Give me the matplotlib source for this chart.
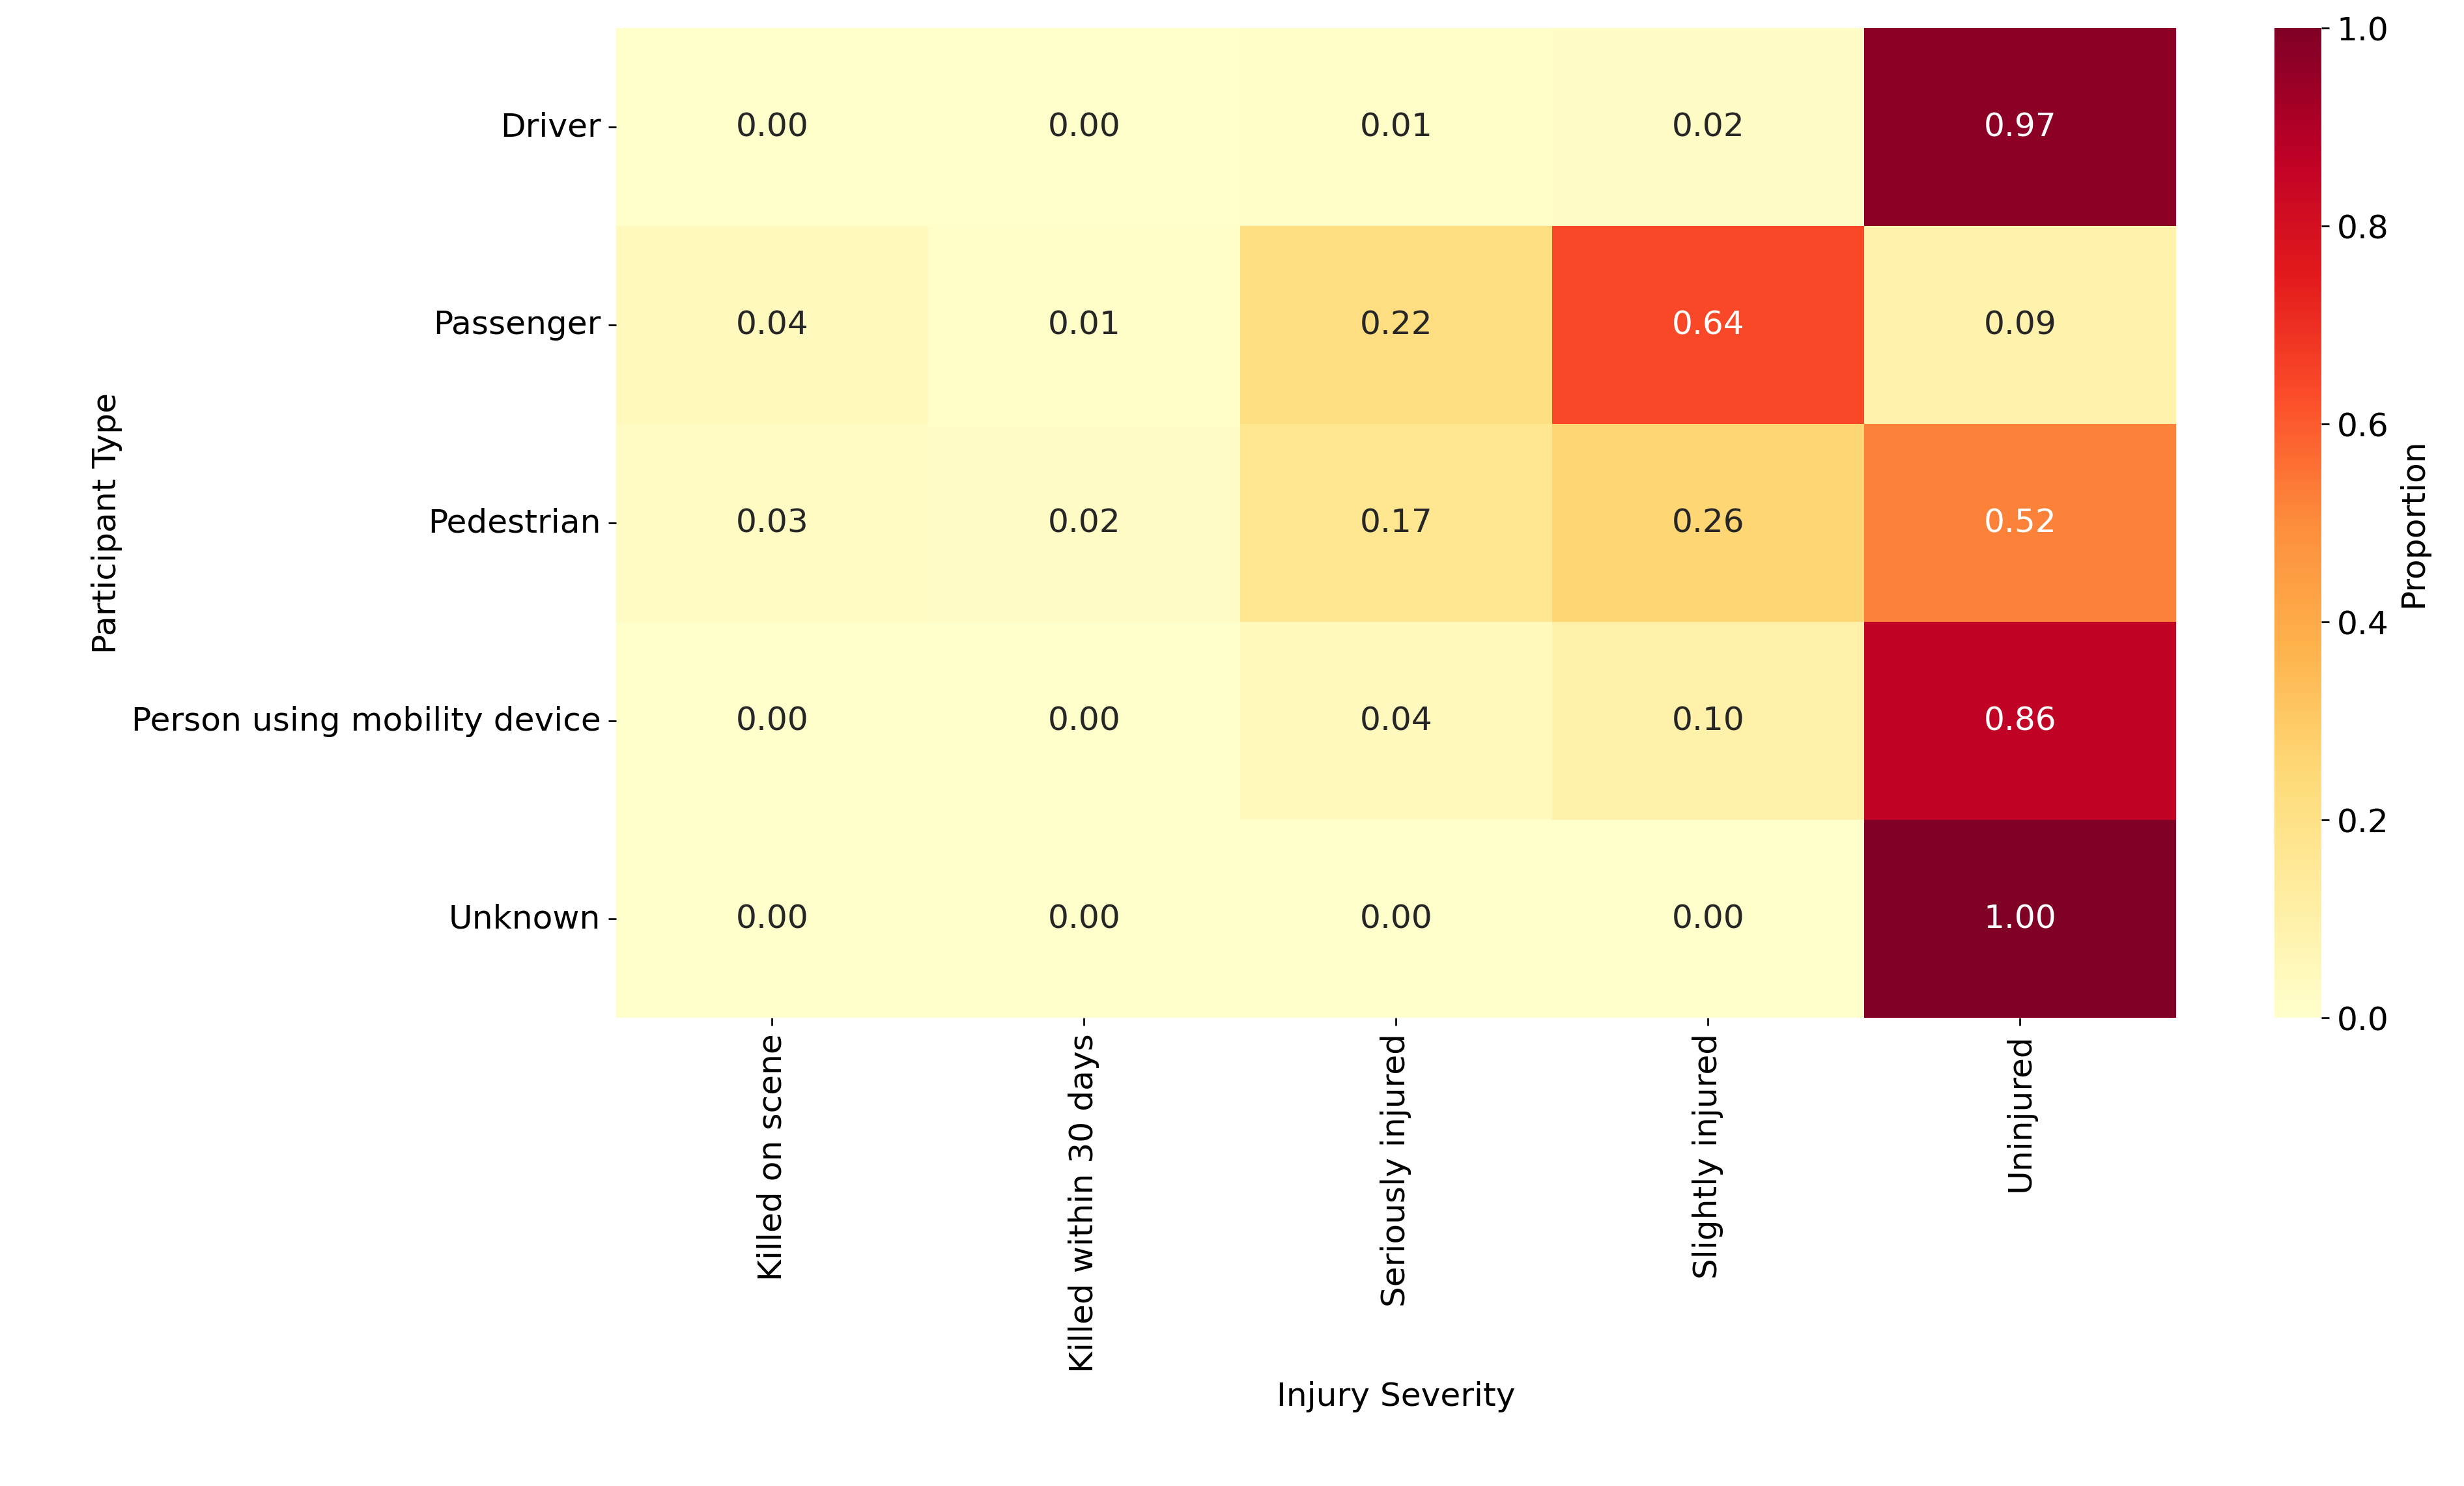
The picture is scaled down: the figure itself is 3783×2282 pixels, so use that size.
import matplotlib
matplotlib.use("Agg")
import matplotlib.pyplot as plt
import numpy as np
import seaborn as sns

participants = ["Driver", "Passenger", "Pedestrian", "Person using mobility device", "Unknown"]
severities = ["Killed on scene", "Killed within 30 days", "Seriously injured",
              "Slightly injured", "Uninjured"]

driver     = [0.001, 0.001, 0.01, 0.02, 0.97]
passenger  = [0.04, 0.01, 0.22, 0.64, 0.09]
pedestrian = [0.03, 0.02, 0.17, 0.26, 0.52]
mobility   = [0.001, 0.001, 0.04, 0.10, 0.86]
unknown    = [0.0, 0.0, 0.0, 0.0, 1.00]

data = np.array([driver, passenger, pedestrian, mobility, unknown])

fig = plt.figure(figsize=(15.68, 9.46))
ax = fig.add_axes([0.25, 0.315, 0.633, 0.666])
cax = fig.add_axes([0.923, 0.315, 0.019, 0.666])

sns.heatmap(data, ax=ax, cbar_ax=cax, cmap="YlOrRd", vmin=0, vmax=1,
            annot=True, fmt=".2f", annot_kws={"fontsize": 15},
            xticklabels=severities, yticklabels=participants,
            cbar_kws={"label": "Proportion"})

ax.tick_params(labelsize=15)
ax.set_xticklabels(severities, rotation=90, fontsize=15)
ax.set_yticklabels(participants, rotation=0, fontsize=15)
ax.set_xlabel("Injury Severity", fontsize=15)
ax.set_ylabel("Participant Type", fontsize=15)
cax.tick_params(labelsize=15)
cax.yaxis.label.set_size(15)

fig.savefig("out.png", dpi=241.3)
